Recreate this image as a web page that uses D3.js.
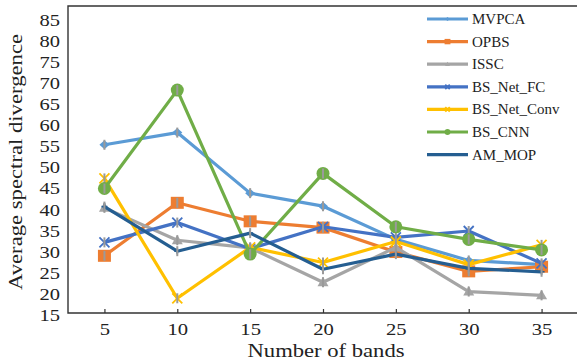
<!DOCTYPE html>
<html>
<head>
<meta charset="utf-8">
<script src="https://cdn.jsdelivr.net/npm/d3@7"></script>
<style>
  html, body { margin: 0; padding: 0; background: #fff; }
  svg { display: block; }
  text { font-family: "Liberation Serif", "Times New Roman", serif; fill: #222; }
</style>
</head>
<body>
<svg id="chart" width="577" height="363"></svg>
<script>
// Band counts on the x axis
const bands = [5, 10, 15, 20, 25, 30, 35];
const yTicks = [15, 20, 25, 30, 35, 40, 45, 50, 55, 60, 65, 70, 75, 80, 85];

// Average spectral divergence per method
const MVPCA       = [55.0, 57.9, 43.5, 40.4, 32.5, 27.5, 26.5];
const OPBS        = [28.6, 41.2, 36.8, 35.3, 29.5, 24.9, 26.0];
const ISSC        = [40.0, 32.3, 30.5, 22.3, 30.6, 20.1, 19.2];
const BS_Net_FC   = [31.8, 36.5, 30.3, 35.5, 33.0, 34.5, 26.8];
const BS_Net_Conv = [47.0, 18.5, 30.6, 27.0, 32.0, 26.5, 31.2];
const BS_CNN      = [44.6, 68.0, 29.0, 48.2, 35.5, 32.5, 30.0];
const AM_MOP      = [40.3, 29.7, 34.0, 25.4, 29.0, 25.6, 24.8];

const seriesNames = ["MVPCA", "OPBS", "ISSC", "BS_Net_FC", "BS_Net_Conv", "BS_CNN", "AM_MOP"];
const seriesValues = [MVPCA, OPBS, ISSC, BS_Net_FC, BS_Net_Conv, BS_CNN, AM_MOP];
const colors = ["#5B9BD5", "#ED7D31", "#A5A5A5", "#4472C4", "#FFC000", "#70AD47", "#255E91"];
const markers = ["diamond", "square", "triangle", "cross", "star", "circle", "plus"];

const svg = d3.select("#chart");
const plotL = 68, plotR = 578, plotT = 6, plotB = 313;

const x = d3.scaleLinear().domain([2.5, 37.5]).range([plotL, plotR]);
const y = d3.scaleLinear().domain([15, 88]).range([plotB, plotT]);

// frame
svg.append("path")
  .attr("d", `M${plotL},${plotB}V${plotT}H${plotR}V${plotB}Z`)
  .attr("fill", "none").attr("stroke", "#333").attr("stroke-width", 1.4);

// x axis: inward ticks and labels
const xAxis = d3.axisBottom(x).tickValues(bands).tickSizeInner(-4).tickSizeOuter(0).tickPadding(10);
const gx = svg.append("g").attr("transform", `translate(0,${plotB})`).call(xAxis);
gx.select(".domain").remove();
gx.selectAll(".tick line").attr("stroke", "#333").attr("stroke-width", 1.2);
gx.selectAll(".tick text")
  .attr("font-size", 17).attr("font-family", "Liberation Serif").attr("fill", "#222")
  .each(function(d) { const s = String(d); d3.select(this).attr("textLength", s.length * 10.3).attr("lengthAdjust", "spacingAndGlyphs"); });

// y axis labels
const yAxis = d3.axisLeft(y).tickValues(yTicks).tickSize(0).tickPadding(8);
const gy = svg.append("g").attr("transform", `translate(${plotL},0)`).call(yAxis);
gy.select(".domain").remove();
gy.selectAll(".tick text")
  .attr("font-size", 17).attr("font-family", "Liberation Serif").attr("fill", "#222")
  .attr("dy", "0.42em")
  .attr("textLength", 20.5).attr("lengthAdjust", "spacingAndGlyphs");

// axis titles
svg.append("text")
  .attr("x", (plotL + plotR) / 2 + 3).attr("y", 357)
  .attr("text-anchor", "middle").attr("font-size", 19)
  .attr("textLength", 157).attr("lengthAdjust", "spacingAndGlyphs")
  .text("Number of bands");
svg.append("text")
  .attr("transform", "translate(22,162) rotate(-90)")
  .attr("text-anchor", "middle").attr("font-size", 19.5)
  .attr("textLength", 256).attr("lengthAdjust", "spacingAndGlyphs")
  .text("Average spectral divergence");

// marker drawing
function drawMarker(g, type, cx, cy, color, s) {
  if (type === "diamond") {
    g.append("path").attr("d", `M${cx},${cy - 4.5 * s}L${cx + 5 * s},${cy}L${cx},${cy + 4.5 * s}L${cx - 5 * s},${cy}Z`).attr("fill", color);
  } else if (type === "square") {
    g.append("rect").attr("x", cx - 6.5 * s).attr("y", cy - 6 * s).attr("width", 13 * s).attr("height", 12 * s).attr("fill", color);
  } else if (type === "triangle") {
    g.append("path").attr("d", `M${cx},${cy - 5.5 * s}L${cx + 5.5 * s},${cy + 4 * s}L${cx - 5.5 * s},${cy + 4 * s}Z`).attr("fill", color);
  } else if (type === "cross" || type === "star") {
    const r = 5 * s;
    g.append("path").attr("d", `M${cx - r},${cy - r}L${cx + r},${cy + r}M${cx - r},${cy + r}L${cx + r},${cy - r}`)
      .attr("stroke", color).attr("stroke-width", 1.8).attr("fill", "none");
  } else if (type === "circle") {
    g.append("circle").attr("cx", cx).attr("cy", cy).attr("r", 6.5 * s).attr("fill", color);
  } else if (type === "plus") {
    g.append("path").attr("d", `M${cx - 3 * s},${cy}H${cx + 3 * s}M${cx},${cy - 3 * s}V${cy + 3 * s}`)
      .attr("stroke", color).attr("stroke-width", 1.6);
  }
}

const line = d3.line().x((d, i) => x(bands[i])).y(d => y(d));
const plot = svg.append("g");

seriesValues.forEach((vals, k) => {
  const g = plot.append("g");
  g.append("path").datum(vals).attr("d", line)
    .attr("fill", "none").attr("stroke", colors[k]).attr("stroke-width", 3.2)
    .attr("stroke-linejoin", "round");
  vals.forEach((v, i) => {
    drawMarker(g, markers[k], x(bands[i]), y(v), colors[k], 1);
    // grey vertical bar through each point
    g.append("line")
      .attr("x1", x(bands[i])).attr("x2", x(bands[i]))
      .attr("y1", y(v) - 5).attr("y2", y(v) + 5)
      .attr("stroke", "#9a9a9a").attr("stroke-width", 2);
  });
});

// legend
const legend = svg.append("g");
seriesNames.forEach((name, k) => {
  const cy = 19 + k * 22.6;
  legend.append("line").attr("x1", 427).attr("x2", 468).attr("y1", cy).attr("y2", cy)
    .attr("stroke", colors[k]).attr("stroke-width", 3.2);
  drawMarker(legend, markers[k], 447.5, cy, colors[k], 0.45);
  legend.append("text").attr("x", 472).attr("y", cy + 5).attr("font-size", 15).text(name);
});
</script>
</body>
</html>
